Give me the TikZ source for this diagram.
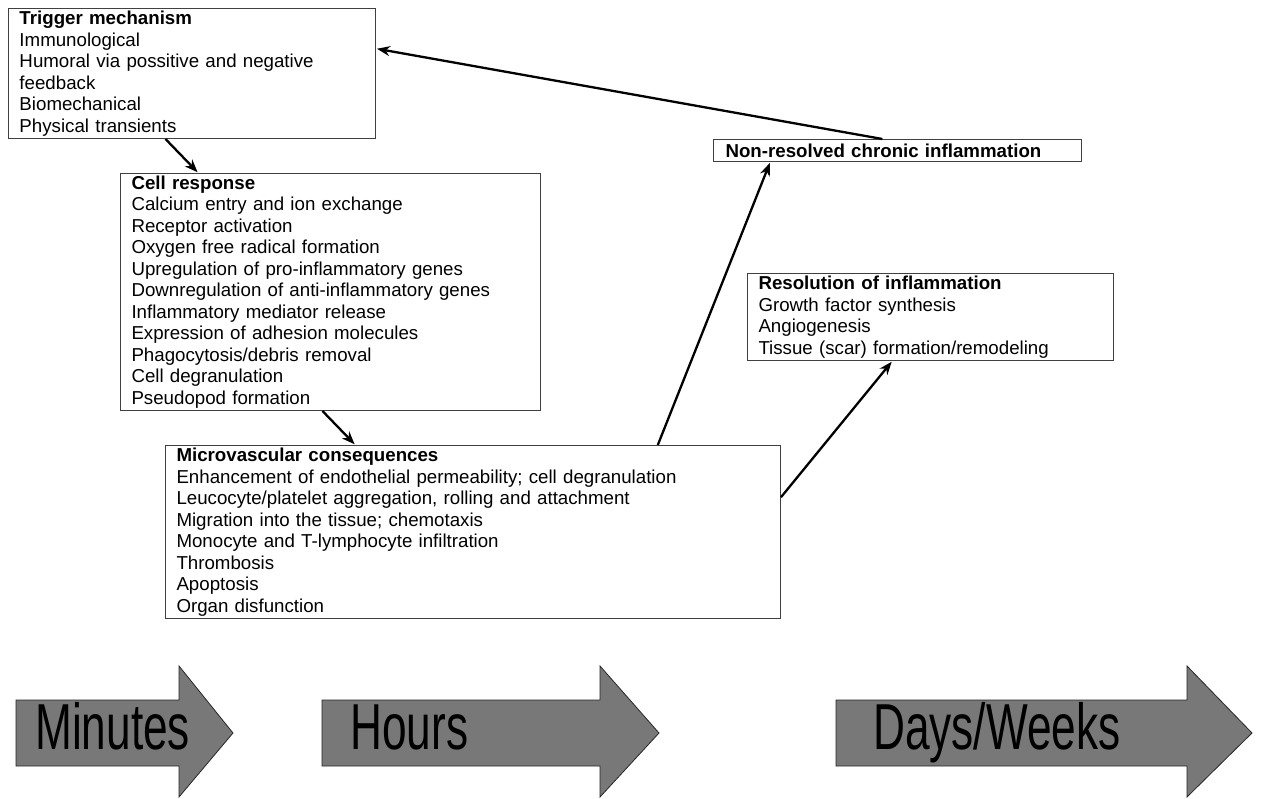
\documentclass[tikz,border=0pt]{standalone}
\usepackage{fontspec}
\setmainfont{Liberation Sans}
\usepackage{graphicx}
\usetikzlibrary{arrows,arrows.meta,positioning,calc}

\begin{document}
\begin{tikzpicture}[x=1pt, y=-1pt, ->, >={Stealth[length=13pt,width=10pt]}, semithick,
    box/.style={draw=black!75, line width=1pt, anchor=north west, align=left,
        inner xsep=11pt, inner ysep=2pt, font=\fontsize{18.7}{21.5}\selectfont},
    link/.style={line width=2.3pt, shorten >=1pt},
    timearrow/.style={-, draw=black!85, line width=0.8pt, fill=black!53},
    timetext/.style={anchor=base west, inner sep=0pt, font=\fontsize{65}{65}\selectfont}]
    \useasboundingbox (0,0) rectangle (1261,799);

    % boxes
    \node[box, text width=345pt, minimum height=130pt] (trig) at (8,8)
        {\textbf{Trigger mechanism}\\Immunological\\Humoral via possitive and negative\\feedback\\Biomechanical\\Physical transients};
    \node[box, text width=398pt, minimum height=237pt] (cell) at (120,173)
        {\textbf{Cell response}\\Calcium entry and ion exchange\\Receptor activation\\Oxygen free radical formation\\Upregulation of pro-inflammatory genes\\Downregulation of anti-inflammatory genes\\Inflammatory mediator release\\Expression of adhesion molecules\\Phagocytosis/debris removal\\Cell degranulation\\Pseudopod formation};
    \node[box, text width=593pt, minimum height=173pt] (micro) at (165,445)
        {\textbf{Microvascular consequences}\\Enhancement of endothelial permeability; cell degranulation\\Leucocyte/platelet aggregation, rolling and attachment\\Migration into the tissue; chemotaxis\\Monocyte and T-lymphocyte infiltration\\Thrombosis\\Apoptosis\\Organ disfunction};
    \node[box, text width=344pt, inner xsep=12pt, minimum height=22pt] (chronic) at (713,139)
        {\textbf{Non-resolved chronic inflammation}};
    \node[box, text width=344pt, minimum height=87pt] (resol) at (747,273)
        {\textbf{Resolution of inflammation}\\Growth factor synthesis\\Angiogenesis\\Tissue (scar) formation/remodeling};

    % links
    \draw[link] ($(trig.south west)!0.428!(trig.south east)$) -- ($(cell.north west)!0.186!(cell.north east)$);
    \draw[link] ($(cell.south west)!0.481!(cell.south east)$) -- ($(micro.north west)!0.309!(micro.north east)$);
    \draw[link] ($(micro.north west)!0.80!(micro.north east)$) -- ($(chronic.south west)!0.155!(chronic.south east)$);
    \draw[link] ($(micro.north east)!0.30!(micro.south east)$) -- ($(resol.south west)!0.396!(resol.south east)$);
    \draw[link] ($(chronic.north west)!0.459!(chronic.north east)$) -- ($(trig.north east)!0.31!(trig.south east)$);

    % time scale
    \draw[timearrow] (16,700) -- (179,700) -- (179,666) -- (233,733) -- (179,797) -- (179,766) -- (16,766) -- cycle;
    \draw[timearrow] (322,700) -- (600,700) -- (600,666) -- (659,733) -- (600,797) -- (600,766) -- (322,766) -- cycle;
    \draw[timearrow] (836,700) -- (1187,700) -- (1187,666) -- (1252,733) -- (1187,797) -- (1187,766) -- (836,766) -- cycle;
    \node[timetext] (minutes) at (35,749) {\scalebox{0.68}[1]{Minutes}};
    \node[timetext] (hours) at (350,749) {\scalebox{0.68}[1]{Hours}};
    \node[timetext] (days) at (873,749) {\scalebox{0.68}[1]{Days/Weeks}};
\end{tikzpicture}
\end{document}
